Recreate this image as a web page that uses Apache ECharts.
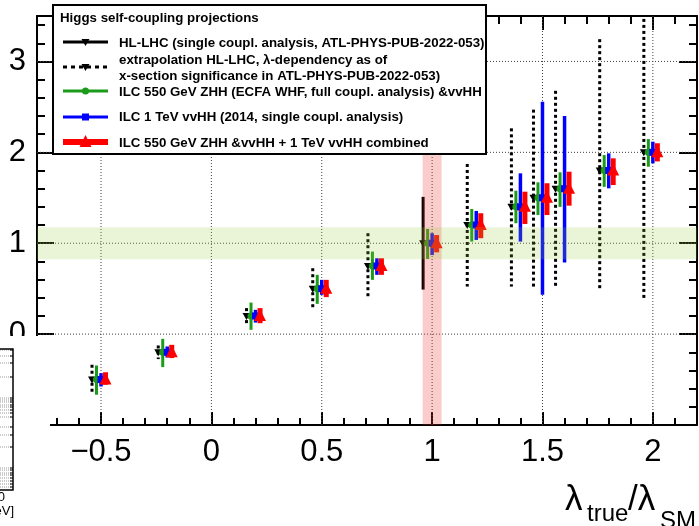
<!DOCTYPE html>
<html>
<head>
<meta charset="utf-8">
<script src="https://cdn.jsdelivr.net/npm/echarts@6/dist/echarts.min.js"></script>
<style>
  html, body { margin: 0; padding: 0; background: #fff; }
  #main { width: 699px; height: 526px; }
</style>
</head>
<body>
<div id="main"></div>
<script>
// values
var lambdaTrue = [-0.5, -0.2, 0.2, 0.5, 0.75, 1, 1.2, 1.4, 1.5, 1.6, 1.8, 2.0];

// HL-LHC single coupling analysis (only at SM point)
var hlSmLambda = [1];
var hlSmLo = [0.49];
var hlSmHi = [1.51];

// extrapolation of HL-LHC (dotted)
var extrapLambda = [-0.5, -0.2, 0.2, 0.5, 0.75, 1.2, 1.4, 1.5, 1.6, 1.8, 2.0];
var extrapLo = [-0.656, -0.275, 0.102, 0.267, 0.385, 0.523, 0.523, 0.523, 0.505, 0.505, 0.396];
var extrapHi = [-0.337, -0.125, 0.286, 0.725, 1.11, 1.872, 2.264, 2.47, 2.677, 3.245, 3.6];

// ILC 550 GeV ZHH (ECFA WHF) & vvHH
var ilc550Lo = [-0.667, -0.363, 0.047, 0.333, 0.597, 0.827, 1.018, 1.22, 1.31, 1.40, 1.62, 1.842];
var ilc550Hi = [-0.345, -0.052, 0.347, 0.652, 0.908, 1.157, 1.377, 1.578, 1.67, 1.78, 1.97, 2.146];

// ILC 1 TeV vvHH (2014)
var ilc1tLo = [-0.576, -0.257, 0.127, 0.432, 0.652, 0.87, 1.036, 1.018, 0.432, 0.787, 1.604, 1.879];
var ilc1tHi = [-0.43, -0.136, 0.267, 0.597, 0.835, 1.11, 1.355, 1.769, 2.556, 2.40, 1.989, 2.117];

// combined
var combLo = [-0.557, -0.264, 0.12, 0.407, 0.652, 0.90, 1.055, 1.212, 1.31, 1.413, 1.64, 1.90];
var combHi = [-0.42, -0.118, 0.286, 0.597, 0.835, 1.09, 1.33, 1.567, 1.66, 1.787, 1.934, 2.10];

// bands
var smBandX = [0.957, 1.043];
var smBandY = [0.824, 1.176];

// axes
var xMin = -0.79, xMax = 2.2;
var yMin = -1, yMax = 3.5;
var xMajor = [-0.5, 0, 0.5, 1, 1.5, 2];
var xMinor = [-0.7, -0.6, -0.4, -0.3, -0.2, -0.1, 0.1, 0.2, 0.3, 0.4, 0.6, 0.7, 0.8, 0.9,
              1.1, 1.2, 1.3, 1.4, 1.6, 1.7, 1.8, 1.9, 2.1];
var yMajor = [-1, 0, 1, 2, 3];
var yMinor = [-0.8, -0.6, -0.4, -0.2, 0.2, 0.4, 0.6, 0.8, 1.2, 1.4, 1.6, 1.8,
              2.2, 2.4, 2.6, 2.8, 3.2, 3.4];

var FONT = 'Liberation Sans, Arial, Helvetica, sans-serif';
var myChart = echarts.init(document.getElementById('main'));

function fmt(v) {
    return v < 0 ? '\u2212' + Math.abs(v) : String(v);
}

function axis(kind, pos, ticks, len, line, labels) {
    var a = {
        type: 'value', position: pos,
        min: kind === 'x' ? xMin : yMin,
        max: kind === 'x' ? xMax : yMax,
        axisLine: { show: line, onZero: false, lineStyle: { color: '#000', width: 2 } },
        axisTick: { show: true, inside: true, length: len, customValues: ticks,
                    lineStyle: { color: '#000', width: 2 } },
        axisLabel: { show: false },
        splitLine: { show: false }
    };
    if (labels) {
        a.axisLabel = { show: true, customValues: labels, formatter: fmt, fontSize: 31,
                        color: '#000', fontFamily: FONT, margin: kind === 'x' ? 12 : 11 };
    }
    return a;
}

function marker(kind, cx, cy, color) {
    if (kind === 'circle') {
        return { type: 'circle', shape: { cx: cx, cy: cy, r: 3.5 }, style: { fill: color } };
    }
    if (kind === 'square') {
        return { type: 'rect', shape: { x: cx - 3.5, y: cy - 3.5, width: 7, height: 7 }, style: { fill: color } };
    }
    if (kind === 'triUp') {
        return { type: 'polygon', shape: { points: [[cx, cy - 7], [cx - 6, cy + 5], [cx + 6, cy + 5]] }, style: { fill: color } };
    }
    return { type: 'polygon', shape: { points: [[cx - 4, cy - 3], [cx + 4, cy - 3], [cx, cy + 4]] }, style: { fill: color } };
}

function errSeries(name, xs, lo, hi, o) {
    return {
        type: 'custom', name: name, clip: true, z: 2,
        data: xs.map(function (x, i) { return [x, lo[i], hi[i], x]; }),
        renderItem: function (params, api) {
            var x = api.value(0);
            var pLo = api.coord([x, api.value(1)]);
            var pHi = api.coord([x, api.value(2)]);
            var pC = api.coord([x, api.value(3)]);
            var cx = pC[0] + o.dx;
            var kids = [{
                type: 'line',
                shape: { x1: cx, y1: pHi[1], x2: cx, y2: pLo[1] },
                style: { stroke: o.color, lineWidth: o.width, lineDash: o.dash || null, lineCap: 'butt' }
            }];
            if (o.marker) kids.push(marker(o.marker, cx, pC[1], o.color));
            return { type: 'group', children: kids };
        }
    };
}

// legend drawn as graphic
var legendRows = [
    { y: 42, color: '#000', width: 3, dash: null, marker: 'triDown' },
    { y: 67, color: '#000', width: 3, dash: [4, 4], marker: 'triDown' },
    { y: 91, color: '#1a9c1a', width: 3, dash: null, marker: 'circle' },
    { y: 117, color: '#0000ff', width: 3, dash: null, marker: 'square' },
    { y: 142, color: '#ff0000', width: 6, dash: null, marker: 'triUp' }
];
var legendTexts = [
    { y: 18, t: 'Higgs self-coupling projections', x: 60 },
    { y: 43, t: 'HL-LHC (single coupl. analysis, ATL-PHYS-PUB-2022-053)' },
    { y: 60, t: 'extrapolation HL-LHC, \u03bb-dependency as of' },
    { y: 76, t: 'x-section significance in ATL-PHYS-PUB-2022-053)' },
    { y: 92, t: 'ILC 550 GeV ZHH (ECFA WHF, full coupl. analysis) &vvHH' },
    { y: 117, t: 'ILC 1 TeV vvHH (2014, single coupl. analysis)' },
    { y: 143, t: 'ILC 550 GeV ZHH &vvHH + 1 TeV vvHH combined' }
];

var graphics = [];
graphics.push({ type: 'rect', z: 100, shape: { x: 53, y: 5, width: 433, height: 149 },
                style: { fill: '#fff', stroke: '#000', lineWidth: 2 } });
legendRows.forEach(function (r) {
    graphics.push({ type: 'line', z: 101, shape: { x1: 63, y1: r.y, x2: 108, y2: r.y },
                    style: { stroke: r.color, lineWidth: r.width, lineDash: r.dash } });
    var m = marker(r.marker, 85.5, r.y, r.color);
    m.z = 102;
    graphics.push(m);
});
legendTexts.forEach(function (l) {
    graphics.push({ type: 'text', z: 101, x: l.x || 119, y: l.y,
                    style: { text: l.t, fill: '#000', font: 'bold 13.3px ' + FONT, verticalAlign: 'middle' } });
});

// x axis title
graphics.push({ type: 'text', z: 50, x: 565, y: 500, style: { text: '\u03bb', fill: '#000', font: '35px ' + FONT, verticalAlign: 'middle' } });
graphics.push({ type: 'text', z: 50, x: 587, y: 514, style: { text: 'true', fill: '#000', font: '24px ' + FONT, verticalAlign: 'middle' } });
graphics.push({ type: 'text', z: 50, x: 628, y: 500, style: { text: '/\u03bb', fill: '#000', font: '35px ' + FONT, verticalAlign: 'middle' } });
graphics.push({ type: 'text', z: 50, x: 660, y: 521, style: { text: 'SM', fill: '#000', font: '24px ' + FONT, verticalAlign: 'middle' } });

// neighbouring pad that hides the lower left corner
graphics.push({ type: 'rect', z: 90, shape: { x: 0, y: 336, width: 50, height: 190 }, style: { fill: '#fff' } });
var fragGrid = [350, 356, 363, 377, 398, 400, 402, 405, 407, 410, 413, 417, 427, 435, 447,
                468, 470, 473, 475, 478, 481, 484, 487];
fragGrid.forEach(function (gy) {
    graphics.push({ type: 'line', z: 91, shape: { x1: 0, y1: gy, x2: 12, y2: gy },
                    style: { stroke: '#999', lineWidth: 1, lineDash: [1, 1] } });
    graphics.push({ type: 'line', z: 92, shape: { x1: 10, y1: gy, x2: 13, y2: gy },
                    style: { stroke: '#000', lineWidth: 1 } });
});
graphics.push({ type: 'polyline', z: 92, shape: { points: [[0, 349], [13, 349], [13, 490], [0, 490]] },
                style: { stroke: '#000', lineWidth: 1.5, fill: null } });
graphics.push({ type: 'text', z: 92, x: 5, y: 497, style: { text: '0', fill: '#000', font: '13px ' + FONT, align: 'right', verticalAlign: 'middle' } });
graphics.push({ type: 'text', z: 92, x: 14, y: 511, style: { text: '[GeV]', fill: '#000', font: '13px ' + FONT, align: 'right', verticalAlign: 'middle' } });

myChart.setOption({
    animation: false,
    backgroundColor: '#fff',
    grid: { left: 37, right: 2, top: 16, bottom: 101, containLabel: false, outerBoundsMode: 'none' },
    xAxis: [
        axis('x', 'bottom', xMajor, 13, true, xMajor),
        axis('x', 'bottom', xMinor, 7, false, null),
        axis('x', 'top', xMajor, 14, true, null),
        axis('x', 'top', xMinor, 8, false, null)
    ],
    yAxis: [
        axis('y', 'left', yMajor, 17, true, yMajor),
        axis('y', 'left', yMinor, 8, false, null),
        axis('y', 'right', yMajor, 18, true, null),
        axis('y', 'right', yMinor, 8, false, null)
    ],
    series: [
        {
            // dotted grid lines
            type: 'custom', name: 'grid', z: 1, silent: true,
            data: xMajor.map(function (v) { return [v, 0]; }).concat(yMajor.slice(1).map(function (v) { return [v, 1]; })),
            renderItem: function (params, api) {
                var cs = params.coordSys;
                var v = api.value(0);
                var shape;
                if (api.value(1) === 0) {
                    var px = api.coord([v, yMin])[0];
                    shape = { x1: px, y1: cs.y, x2: px, y2: cs.y + cs.height };
                } else {
                    var py = api.coord([xMin, v])[1];
                    shape = { x1: cs.x, y1: py, x2: cs.x + cs.width, y2: py };
                }
                return { type: 'line', shape: shape, style: { stroke: '#444', lineWidth: 1, lineDash: [1, 2] } };
            }
        },
        errSeries('HL-LHC', hlSmLambda, hlSmLo, hlSmHi, { dx: -9, color: '#000', width: 3, marker: 'triDown' }),
        errSeries('extrapolation', extrapLambda, extrapLo, extrapHi, { dx: -9, color: '#000', width: 3, dash: [3, 3], marker: 'triDown' }),
        errSeries('ILC 550', lambdaTrue, ilc550Lo, ilc550Hi, { dx: -4.5, color: '#1a9c1a', width: 3, marker: 'circle' }),
        errSeries('ILC 1 TeV', lambdaTrue, ilc1tLo, ilc1tHi, { dx: 0, color: '#0000ff', width: 3.5, marker: 'square' }),
        errSeries('combined', lambdaTrue, combLo, combHi, { dx: 4.5, color: '#ff0000', width: 5, marker: 'triUp' }),
        {
            // SM bands, drawn translucent over the points
            type: 'custom', name: 'bands', z: 3, silent: true,
            data: [[smBandX[0], smBandX[1], 0], [smBandY[0], smBandY[1], 1]],
            renderItem: function (params, api) {
                var cs = params.coordSys;
                if (api.value(2) === 0) {
                    var x0 = api.coord([api.value(0), yMin])[0];
                    var x1 = api.coord([api.value(1), yMin])[0];
                    return { type: 'rect', shape: { x: x0, y: cs.y, width: x1 - x0, height: cs.height },
                             style: { fill: 'rgba(240, 40, 40, 0.24)' } };
                }
                var y0 = api.coord([xMin, api.value(1)])[1];
                var y1 = api.coord([xMin, api.value(0)])[1];
                return { type: 'rect', shape: { x: cs.x, y: y0, width: cs.width, height: y1 - y0 },
                         style: { fill: 'rgba(150, 205, 60, 0.2)' } };
            }
        }
    ],
    graphic: graphics
});
</script>
</body>
</html>
